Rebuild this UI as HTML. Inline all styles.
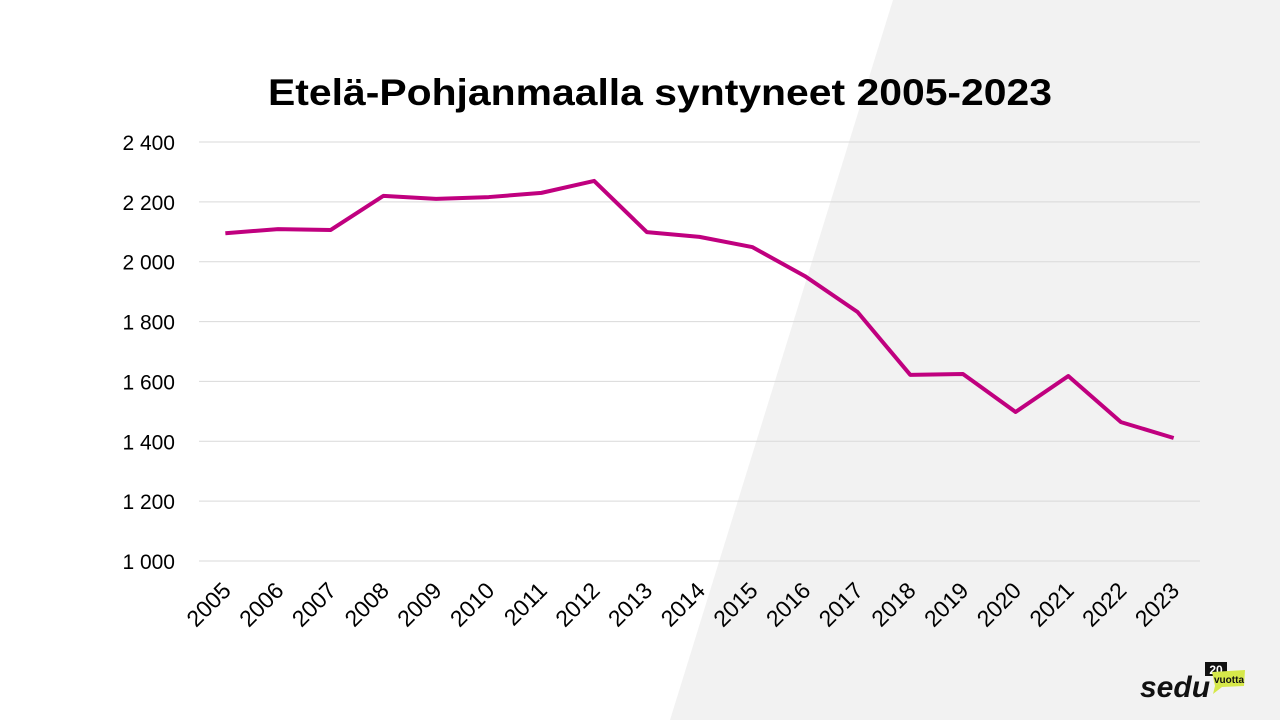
<!DOCTYPE html>
<html><head><meta charset="utf-8"><style>
body{margin:0;width:1280px;height:720px;overflow:hidden;background:#fff;font-family:"Liberation Sans",Arial,sans-serif}
</style></head><body>
<svg width="1280" height="720" viewBox="0 0 1280 720">
<polygon points="893,0 1280,0 1280,720 670,720" fill="#f2f2f2"/>
<text x="268" y="105" font-size="37" font-weight="bold" fill="#000" textLength="784" lengthAdjust="spacingAndGlyphs">Etelä-Pohjanmaalla syntyneet 2005-2023</text>
<g id="grid"></g><g id="ylab"></g><g id="xlab"></g>
<path id="line" fill="none" stroke="#c0007f" stroke-width="4" stroke-linejoin="round"/>
<g>
<text x="1140" y="697" font-size="30" font-weight="bold" font-style="italic" fill="#111">sedu</text>
<rect x="1205" y="662" width="22" height="14" fill="#111"/>
<text x="1216" y="674" text-anchor="middle" font-size="12" font-weight="bold" fill="#fff">20</text>
<polygon points="1212,672 1245,670 1244,686 1222,687 1213,694 1215,686" fill="#d6e84a"/>
<text x="1229" y="683" text-anchor="middle" font-size="10" font-weight="bold" fill="#111">vuotta</text>
</g>
</svg>
<script>
const years=["2005","2006","2007","2008","2009","2010","2011","2012","2013","2014","2015","2016","2017","2018","2019","2020","2021","2022","2023"];
const births=[2095,2109,2106,2220,2210,2216,2230,2270,2099,2083,2049,1952,1832,1622,1625,1498,1618,1464,1411];
const yTicks=[1000,1200,1400,1600,1800,2000,2200,2400];
const yTickLabels=["1 000","1 200","1 400","1 600","1 800","2 000","2 200","2 400"];
const NS="http://www.w3.org/2000/svg";
const x0=199,x1=1200,yMin=1000,yMax=2400,pyTop=142,pyBot=561;
const bw=(x1-x0)/years.length;
const X=i=>x0+bw*(i+0.5);
const Y=v=>pyBot-(v-yMin)/(yMax-yMin)*(pyBot-pyTop);
const grid=document.getElementById('grid'),yl=document.getElementById('ylab'),xl=document.getElementById('xlab');
yTicks.forEach((t,i)=>{
 const l=document.createElementNS(NS,'line');
 l.setAttribute('x1',x0);l.setAttribute('x2',x1);l.setAttribute('y1',Y(t));l.setAttribute('y2',Y(t));
 l.setAttribute('stroke','#d9d9d9');l.setAttribute('stroke-width','1');
 
 
 grid.appendChild(l);
 const tx=document.createElementNS(NS,'text');
 tx.setAttribute('x',175);tx.setAttribute('y',Y(t)+8);tx.setAttribute('text-anchor','end');
 tx.setAttribute('font-size','21');tx.setAttribute('fill','#000');tx.textContent=yTickLabels[i];
 
 
 yl.appendChild(tx);
});
years.forEach((yr,i)=>{
 const tx=document.createElementNS(NS,'text');
 const cx=X(i)+7,cy=592;
 tx.setAttribute('x',cx);tx.setAttribute('y',cy);tx.setAttribute('text-anchor','end');
 tx.setAttribute('transform','rotate(-45 '+cx+' '+cy+')');
 tx.setAttribute('font-size','23');tx.setAttribute('fill','#000');tx.textContent=yr;
 
 
 xl.appendChild(tx);
});
document.getElementById('line').setAttribute('d',births.map((v,i)=>(i?'L':'M')+X(i)+','+Y(v)).join(' '));
</script>
</body></html>
